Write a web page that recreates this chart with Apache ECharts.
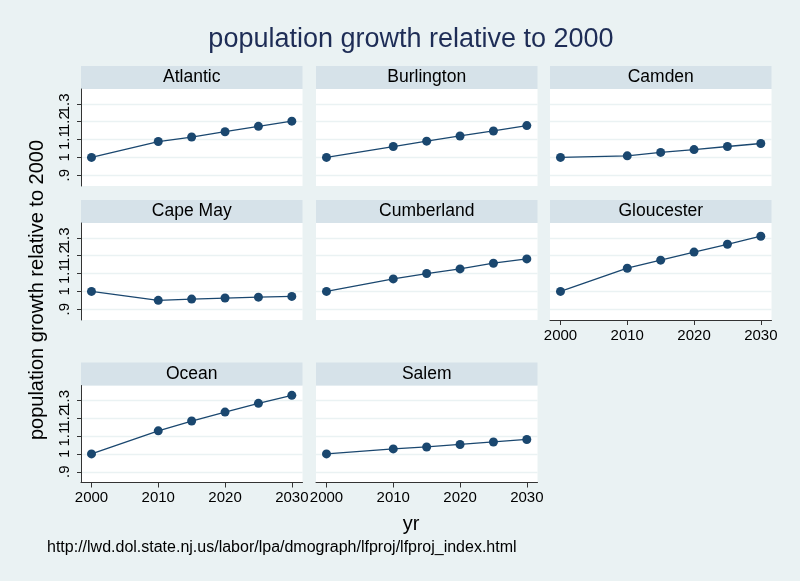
<!DOCTYPE html>
<html>
<head>
<meta charset="utf-8">
<script src="https://cdn.jsdelivr.net/npm/echarts@6.0.0/dist/echarts.min.js"></script>
<style>
  html, body { margin: 0; padding: 0; background: #eaf2f3; }
  #chart { width: 800px; height: 581px; }
</style>
</head>
<body>
<div id="chart"></div>
<script>
// Projected population relative to the 2000 count, by county
const years = [2000, 2010, 2015, 2020, 2025, 2030];
const counties = ['Atlantic', 'Burlington', 'Camden', 'Cape May', 'Cumberland', 'Gloucester', 'Ocean', 'Salem'];
const atlantic   = [1.000, 1.089, 1.114, 1.144, 1.174, 1.203];
const burlington = [1.000, 1.061, 1.091, 1.120, 1.148, 1.178];
const camden     = [1.000, 1.009, 1.028, 1.044, 1.061, 1.078];
const capeMay    = [1.000, 0.950, 0.957, 0.963, 0.968, 0.972];
const cumberland = [1.000, 1.070, 1.100, 1.126, 1.158, 1.182];
const gloucester = [1.000, 1.130, 1.175, 1.220, 1.264, 1.309];
const ocean      = [1.000, 1.129, 1.184, 1.234, 1.283, 1.328];
const salem      = [1.000, 1.028, 1.039, 1.053, 1.067, 1.081];

const xTicks = [2000, 2010, 2020, 2030];
const yTicks = [0.9, 1, 1.1, 1.2, 1.3];
const yTickLabels = ['.9', '1', '1.1', '1.2', '1.3'];

const titleText = 'population growth relative to 2000';
const yTitleText = 'population growth relative to 2000';
const xTitleText = 'yr';
const noteText = 'http://lwd.dol.state.nj.us/labor/lpa/dmograph/lfproj/lfproj_index.html';

const panelValues = [atlantic, burlington, camden, capeMay, cumberland, gloucester, ocean, salem];

// Panel layout (3 columns, 3 rows)
const FONT = '"Liberation Sans", Arial, Helvetica, sans-serif';
const NAVY = '#1a476f';
const BG = '#eaf2f3';
const STRIP = '#d6e2e9';
const colLeft = [81, 316, 550];
const colWidth = 221.5;
const rowTop = [89, 223, 385.5];
const plotHeight = 97;
const stripHeight = 23;
const Y_MIN = 0.84, Y_MAX = 1.383;

const yLabelFormatter = v => {
  const k = yTicks.findIndex(t => Math.abs(t - v) < 1e-6);
  return k >= 0 ? yTickLabels[k] : '';
};

// The tick labels sit closer together than their own length, so they are split
// over two coincident axes: each one alone has no overlapping labels to drop.
const yLabelsA = yTicks.filter((t, k) => k % 2 === 0);
const yLabelsB = yTicks.filter((t, k) => k % 2 === 1);

function yLabelStyle(values) {
  return {
    show: true, customValues: values, rotate: 90, margin: 9, hideOverlap: false,
    showMinLabel: true, showMaxLabel: true,
    fontSize: 15, color: '#000', fontFamily: FONT,
    formatter: yLabelFormatter
  };
}

const grids = [], xAxes = [], yAxes = [], series = [], graphics = [];

counties.forEach((name, i) => {
  const row = Math.floor(i / 3), col = i % 3;
  const left = colLeft[col], top = rowTop[row];
  const showX = row === 2 || (row === 1 && col === 2);
  const showY = col === 0;

  grids.push({
    left: left, top: top, width: colWidth, height: plotHeight,
    show: true, backgroundColor: '#ffffff', borderWidth: 0,
    containLabel: false, outerBoundsMode: 'none'
  });
  const gi = grids.length - 1;

  xAxes.push({
    type: 'value', gridIndex: gi, min: 1998.43, max: 2031.6,
    axisLine: { show: showX, onZero: false, lineStyle: { color: '#333', width: 1 } },
    axisTick: { show: showX, customValues: xTicks, length: 5, lineStyle: { color: '#333' } },
    axisLabel: {
      show: showX, customValues: xTicks, margin: 8, hideOverlap: false,
      showMinLabel: true, showMaxLabel: true,
      fontSize: 15, color: '#000', fontFamily: FONT,
      formatter: v => String(Math.round(v))
    },
    splitLine: { show: false }
  });
  const xi = xAxes.length - 1;

  yAxes.push({
    type: 'value', gridIndex: gi, min: Y_MIN, max: Y_MAX, position: 'left',
    axisLine: { show: showY, onZero: false, lineStyle: { color: '#333', width: 1 } },
    axisTick: { show: showY, customValues: yTicks, length: 4, lineStyle: { color: '#333' } },
    axisLabel: showY ? yLabelStyle(yLabelsA) : { show: false },
    splitLine: { show: true, lineStyle: { color: BG, width: 1.3 } }
  });
  const yi = yAxes.length - 1;

  if (showY) {
    yAxes.push({
      type: 'value', gridIndex: gi, min: Y_MIN, max: Y_MAX, position: 'left', offset: 0,
      axisLine: { show: false, onZero: false },
      axisTick: { show: false },
      axisLabel: yLabelStyle(yLabelsB),
      splitLine: { show: false }
    });
  }

  series.push({
    type: 'line', name: name, xAxisIndex: xi, yAxisIndex: yi,
    data: years.map((yr, k) => [yr, panelValues[i][k]]),
    symbol: 'circle', symbolSize: 9,
    lineStyle: { color: NAVY, width: 1.3 },
    itemStyle: { color: NAVY },
    silent: true
  });

  // county strip above each panel
  graphics.push({
    type: 'rect', silent: true,
    shape: { x: left, y: top - stripHeight, width: colWidth, height: stripHeight },
    style: { fill: STRIP }
  });
  graphics.push({
    type: 'text', silent: true,
    x: left + colWidth / 2, y: top - stripHeight / 2,
    style: {
      text: name, fill: '#000', fontSize: 17.5, fontFamily: FONT,
      textAlign: 'center', textVerticalAlign: 'middle'
    }
  });
});

// overall title, axis titles and source note
graphics.push({
  type: 'text', silent: true, x: 411, y: 40,
  style: { text: titleText, fill: '#1e2d56', fontSize: 27, fontFamily: FONT, textAlign: 'center', textVerticalAlign: 'middle' }
});
graphics.push({
  type: 'text', silent: true, x: 37, y: 290, rotation: Math.PI / 2,
  style: { text: yTitleText, fill: '#000', fontSize: 20, fontFamily: FONT, textAlign: 'center', textVerticalAlign: 'middle' }
});
graphics.push({
  type: 'text', silent: true, x: 411, y: 524,
  style: { text: xTitleText, fill: '#000', fontSize: 20, fontFamily: FONT, textAlign: 'center', textVerticalAlign: 'middle' }
});
graphics.push({
  type: 'text', silent: true, x: 47, y: 548,
  style: { text: noteText, fill: '#000', fontSize: 16, fontFamily: FONT, textAlign: 'left', textVerticalAlign: 'middle' }
});

const chart = echarts.init(document.getElementById('chart'), null, { renderer: 'canvas' });
chart.setOption({
  animation: false,
  backgroundColor: BG,
  grid: grids,
  xAxis: xAxes,
  yAxis: yAxes,
  series: series,
  graphic: graphics
});
</script>
</body>
</html>
